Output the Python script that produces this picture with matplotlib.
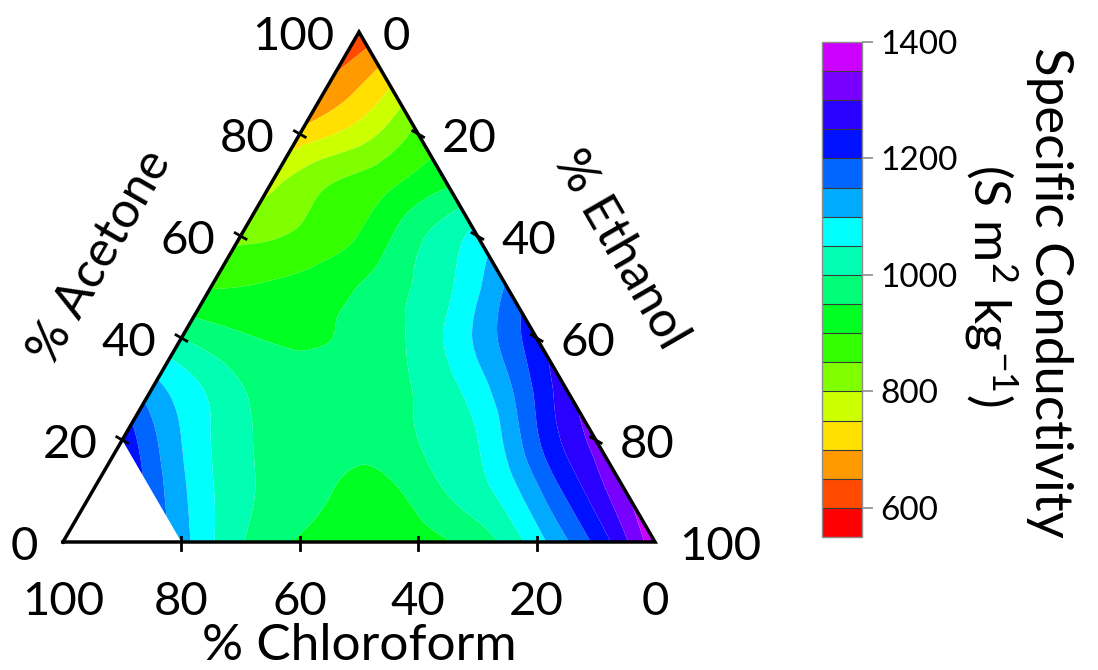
import numpy as np
import matplotlib
matplotlib.use("Agg")
import matplotlib.pyplot as plt
import matplotlib.tri as mtri

# ---------------- data ----------------
# grid of compositions: rows of constant % acetone, ethanol stepping by 10 %
acetone_levels = [100, 90, 80, 70, 60, 50, 40, 30, 20, 10, 0]
ethanol_first = [0, 0, 0, 0, 0, 0, 0, 0, 0, 10, 20]   # chloroform <= 80 %
ethanol_step = 10
# specific conductivity (S m^2 kg^-1)
cond_rows = [
    [610],
    [656, 740],
    [717, 775, 865],
    [790, 850, 892, 945],
    [838, 858, 902, 990, 1068],
    [897, 907, 932, 978, 1042, 1157],
    [1000, 957, 945, 960, 1015, 1110, 1232],
    [1122, 1040, 978, 965, 982, 1035, 1137, 1282],
    [1240, 1100, 1012, 972, 962, 1000, 1049, 1192, 1316],
    [1180, 1055, 988, 952, 940, 1003, 1074, 1210, 1345],
    [1120, 1005, 945, 925, 927, 972, 1078, 1212, 1385],
]
levels = list(range(550, 1401, 50))
band_colors = ['#ff0000', '#ff4a00', '#ff9a00', '#ffe000', '#ccff00', '#80ff00',
               '#33ff00', '#00ff22', '#00ff77', '#00ffb3', '#00ffff', '#00aaff',
               '#0066ff', '#0011ff', '#2a00ff', '#7700ff', '#cc00ff']
cbar_ticks = [600, 800, 1000, 1200, 1400]
axis_ticks = [0, 20, 40, 60, 80, 100]
label_chloroform = '% Chloroform'
label_acetone = '% Acetone'
label_ethanol = '% Ethanol'
cbar_label1 = 'Specific Conductivity'
cbar_label2 = '(S m$^{2}$ kg$^{-1}$)'

# ---------------- style ----------------
plt.rcParams['font.family'] = ['Lato', 'DejaVu Sans']
plt.rcParams['mathtext.fontset'] = 'custom'
plt.rcParams['mathtext.rm'] = 'Lato'
plt.rcParams['mathtext.it'] = 'Lato:italic'
plt.rcParams['mathtext.bf'] = 'Lato:bold'

W, H = 1098, 670
fig = plt.figure(figsize=(W / 100, H / 100), dpi=100)
ax = fig.add_axes([63 / W, 128 / H, 592 / W, 510 / H])
S3 = np.sqrt(3) / 2
ax.set_xlim(0, 100)
ax.set_ylim(0, 100 * S3)
ax.axis('off')
px_x = 592 / 100.0
px_y = 510 / (100 * S3)

# ---------------- field ----------------
A, E, Z = [], [], []
for a, e0, row in zip(acetone_levels, ethanol_first, cond_rows):
    for k, v in enumerate(row):
        A.append(a)
        E.append(e0 + k * ethanol_step)
        Z.append(v)
A = np.array(A, float); E = np.array(E, float); Z = np.array(Z, float)
X = E + A / 2.0
Y = A * S3
tri = mtri.Triangulation(X, Y)
refiner = mtri.UniformTriRefiner(tri)
tri_f, z_f = refiner.refine_field(Z, subdiv=5)
z_f = np.clip(z_f, levels[0] + 1, levels[-1] - 1)
cs = ax.tricontourf(tri_f, z_f, levels=levels, colors=band_colors, antialiased=True)

# ---------------- triangle frame ----------------
ax.plot([0, 100, 50, 0], [0, 0, 100 * S3, 0], color='black', lw=2.5,
        solid_joinstyle='miter', clip_on=False, zorder=5)

tdx, tdy = 0.866, -0.5
tl = 1.05
for t in axis_ticks[1:-1]:
    # bottom (chloroform): x = 100 - t
    xb = 100 - t
    ax.plot([xb, xb], [5 / px_y, -8 / px_y], color='black', lw=2.0, clip_on=False, zorder=5)
    # left (acetone)
    xl, yl = t / 2.0, t * S3
    ax.plot([xl - tl * tdx, xl + tl * tdx], [yl - tl * tdy, yl + tl * tdy],
            color='black', lw=2.0, clip_on=False, zorder=5)
    # right (ethanol): C = 0, A = 100 - t
    ar = 100 - t
    xr, yr = t + ar / 2.0, ar * S3
    ax.plot([xr - tl * tdx, xr + tl * tdx], [yr - tl * tdy, yr + tl * tdy],
            color='black', lw=2.0, clip_on=False, zorder=5)

fs_num = 34
base_off = 17.5 / px_y
for t in axis_ticks:
    # bottom labels (chloroform)
    ax.text(100 - t, -73 / px_y, str(t), ha='center', va='baseline', fontsize=fs_num)
    # left labels (acetone)
    ax.text(t / 2.0 - 25 / px_x, t * S3 - base_off, str(t), ha='right', va='baseline',
            fontsize=fs_num)
    # right labels (ethanol)
    ar = 100 - t
    ax.text(t + ar / 2.0 + 24 / px_x, ar * S3 - base_off, str(t), ha='left',
            va='baseline', fontsize=fs_num)

ax.text(50, -118 / px_y, label_chloroform, ha='center', va='baseline', fontsize=37)
ax.text((100 - 63) / px_x, (542 - 257) / px_y, label_acetone, ha='center', va='center',
        rotation=60, rotation_mode='anchor', fontsize=36)
ax.text((620 - 63) / px_x, (542 - 250) / px_y, label_ethanol, ha='center', va='center',
        rotation=-60, rotation_mode='anchor', fontsize=36)

# ---------------- colorbar ----------------
cax = fig.add_axes([822 / W, 133 / H, 40 / W, 495 / H])
cb = fig.colorbar(cs, cax=cax, ticks=cbar_ticks)
cb.outline.set_edgecolor('#8c8c8c')
cb.outline.set_linewidth(1.0)
for lv in levels[1:-1]:
    cax.axhline(lv, color='#3a3a3a', lw=0.8)
cax.tick_params(axis='y', direction='out', length=8, width=1.2, color='#8c8c8c',
                labelsize=24, pad=5)
for lab in cax.get_yticklabels():
    lab.set_fontfamily(['Lato', 'DejaVu Sans'])

fig.text(1050 / W, 1 - 292 / H, cbar_label1, rotation=-90, ha='center', va='center',
         fontsize=38)
fig.text(990 / W, 1 - 285 / H, cbar_label2, rotation=-90, ha='center', va='center',
         fontsize=37)

fig.savefig('out.png', dpi=100)
